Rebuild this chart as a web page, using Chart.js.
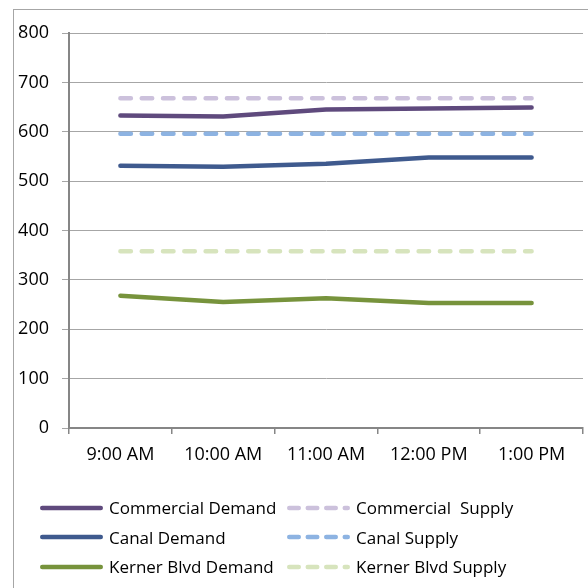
<!DOCTYPE html>
<html>
<head>
<meta charset="utf-8">
<script src="https://cdn.jsdelivr.net/npm/chart.js@4.4.1/dist/chart.umd.min.js"></script>
<style>
  html, body { margin: 0; padding: 0; background: #fff; overflow: hidden; }
  #wrap { position: relative; width: 588px; height: 588px; overflow: hidden; }
  #frame { position: absolute; left: 13px; top: 9px; width: 620px; height: 620px;
           border: 1px solid #a6a6a6; box-sizing: border-box; }
  #chart { position: absolute; left: 0; top: 0; }
  #legend { position: absolute; left: 40px; top: 493px; display: grid;
            grid-template-columns: 247px auto; grid-auto-rows: 29.5px; align-items: center;
            font-family: "Open Sans", sans-serif; font-size: 17px; color: #000; }
  .item { display: flex; align-items: center; white-space: pre; }
  .item svg { flex: none; margin-right: 6px; }
</style>
</head>
<body>
<div id="wrap">
  <div id="frame"></div>
  <canvas id="chart" width="588" height="588"></canvas>
  <div id="legend"></div>
</div>
<script>
// Hourly parking demand vs. supply per area
const timeLabels = ['9:00 AM', '10:00 AM', '11:00 AM', '12:00 PM', '1:00 PM'];
const commercialDemand = [633, 631, 645, 647, 649];
const commercialSupply = [668, 668, 668, 668, 668];
const canalDemand = [531, 529, 535, 548, 548];
const canalSupply = [596, 596, 596, 596, 596];
const kernerDemand = [268, 255, 263, 253, 253];
const kernerSupply = [358, 358, 358, 358, 358];

const AXIS = '#868686';
const GRID = '#a6a6a6';
const tickFont = { family: '"Open Sans", sans-serif', size: 18 };

function demand(label, data, color) {
  return { label, data, borderColor: color, backgroundColor: color, borderWidth: 4.5,
           pointRadius: 0, tension: 0, borderCapStyle: 'round', borderJoinStyle: 'round', fill: false };
}
function supply(label, data, color) {
  return { label, data, borderColor: color, backgroundColor: color, borderWidth: 4.5,
           pointRadius: 0, tension: 0, borderCapStyle: 'round', borderDash: [10.5, 10.8], fill: false };
}

const chart = new Chart(document.getElementById('chart'), {
  type: 'line',
  data: {
    labels: timeLabels,
    datasets: [
      demand('Commercial Demand', commercialDemand, '#5f4a7d'),
      supply('Commercial  Supply', commercialSupply, '#ccc1dc'),
      demand('Canal Demand', canalDemand, '#3f5a8e'),
      supply('Canal Supply', canalSupply, '#8db3e2'),
      demand('Kerner Blvd Demand', kernerDemand, '#77933c'),
      supply('Kerner Blvd Supply', kernerSupply, '#d7e4bd')
    ]
  },
  options: {
    responsive: false,
    animation: false,
    layout: { padding: { left: 13, top: 33, right: 5, bottom: 0 } },
    plugins: { legend: { display: false }, tooltip: { enabled: false } },
    scales: {
      x: {
        offset: true,
        grid: { offset: true, drawOnChartArea: false, drawTicks: true, tickLength: 6, color: AXIS, lineWidth: 1.5 },
        border: { color: AXIS, width: 2 },
        ticks: { color: '#000', font: tickFont, padding: 10, maxRotation: 0, autoSkip: false },
        afterFit: s => { s.height = 160; }
      },
      y: {
        min: 0, max: 800,
        grid: { color: GRID, lineWidth: 1, tickLength: 7 },
        border: { color: AXIS, width: 2 },
        ticks: { stepSize: 100, color: '#000', font: tickFont, padding: 13 },
        afterFit: s => { s.width = 56; }
      }
    }
  }
});

// Legend built from the chart's datasets: two columns, three rows
const legend = document.getElementById('legend');
const NS = 'http://www.w3.org/2000/svg';
chart.data.datasets.forEach(ds => {
  const item = document.createElement('div');
  item.className = 'item';
  const svg = document.createElementNS(NS, 'svg');
  svg.setAttribute('width', '63');
  svg.setAttribute('height', '8');
  const line = document.createElementNS(NS, 'line');
  line.setAttribute('x1', '2.25'); line.setAttribute('x2', '60.75');
  line.setAttribute('y1', '4'); line.setAttribute('y2', '4');
  line.setAttribute('stroke', ds.borderColor);
  line.setAttribute('stroke-width', '4.5');
  line.setAttribute('stroke-linecap', 'round');
  if (ds.borderDash) line.setAttribute('stroke-dasharray', '9.5 9');
  svg.appendChild(line);
  const text = document.createElement('span');
  text.textContent = ds.label;
  item.appendChild(svg);
  item.appendChild(text);
  legend.appendChild(item);
});
</script>
</body>
</html>
